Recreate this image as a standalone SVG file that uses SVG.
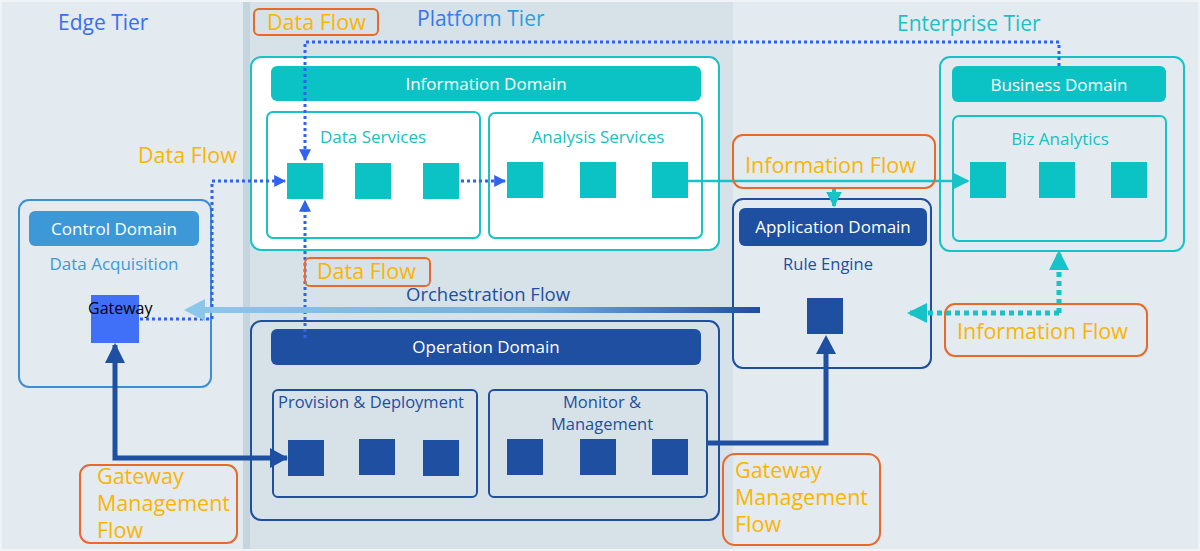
<svg xmlns="http://www.w3.org/2000/svg" width="1200" height="551" viewBox="0 0 1200 551">
<style>
text{font-family:"Open Sans","Noto Sans",sans-serif}
.tier{font-size:21px}
.lbl{font-size:21.5px;fill:#fbb400}
.lblbox{fill:none;stroke:#e8692a;stroke-width:2}
.teal{fill:none;stroke:#17c3c6;stroke-width:2}
.tealw{fill:#fff;stroke:#17c3c6;stroke-width:2}
.tealhead{fill:#0bc3c4}
.tsq{fill:#0bc3c4}
.dsq{fill:#1e4fa0}
.dbox{fill:none;stroke:#1e4fa0;stroke-width:2}
.dhead{fill:#1e4fa0}
.hw{fill:#fff;font-size:17px;text-anchor:middle}
.tt{fill:#17bfc2;font-size:17px;text-anchor:middle}
.dt{fill:#1e4fa0;font-size:16.5px}
.dotb{fill:none;stroke:#2f63ef;stroke-width:3;stroke-dasharray:3 3}
</style>
<defs>
<marker id="ab" viewBox="0 0 10 10" refX="9" refY="5" markerWidth="4" markerHeight="4" orient="auto"><path d="M0,0L10,5L0,10z" fill="#2f63ef"/></marker>
<marker id="at" viewBox="0 0 10 10" refX="9" refY="5" markerWidth="7" markerHeight="7" orient="auto"><path d="M0,0L10,5L0,10z" fill="#17c3c6"/></marker>
<marker id="at2" viewBox="0 0 10 10" refX="9" refY="5" markerWidth="4" markerHeight="4" orient="auto"><path d="M0,0L10,5L0,10z" fill="#17c3c6"/></marker>
<linearGradient id="og" x1="0" y1="0" x2="1" y2="0"><stop offset="0" stop-color="#8cc6ea"/><stop offset="0.6" stop-color="#6eb0e2"/><stop offset="1" stop-color="#1e4fa0"/></linearGradient>
<linearGradient id="pg" x1="0" y1="0" x2="1" y2="0"><stop offset="0" stop-color="#3a6ef0"/><stop offset="1" stop-color="#2aa7d8"/></linearGradient>
</defs>

<g id="background">
<rect x="0" y="0" width="1200" height="551" fill="#f0f4f7"/>
<rect x="2" y="2" width="243" height="547" fill="#e3ebf0"/>
<rect x="243" y="2" width="7" height="547" fill="#c5d5dd"/>
<rect x="250" y="2" width="483" height="547" fill="#d6e2e8"/>
<rect x="733" y="2" width="465" height="547" fill="#e3ebf0"/>
</g>

<g id="tiers">
<text class="tier" x="58" y="30" fill="#3a6ef0">Edge Tier</text>
<text class="tier" x="417" y="26" fill="url(#pg)">Platform Tier</text>
<text class="tier" x="897" y="31" fill="#1fbfc4">Enterprise Tier</text>
</g>

<g id="information-domain">
<rect class="tealw" x="251" y="57" width="468" height="193" rx="10"/>
<rect class="tealhead" x="271" y="66" width="430" height="35" rx="6"/>
<text class="hw" x="486" y="90">Information Domain</text>
</g>
<g id="data-services">
<rect class="tealw" x="267" y="112" width="213" height="126" rx="6"/>
<text class="tt" x="373" y="143">Data Services</text>
<rect class="tsq" x="287" y="163" width="36" height="36"/>
<rect class="tsq" x="355" y="163" width="36" height="36"/>
<rect class="tsq" x="423" y="163" width="36" height="36"/>
</g>
<g id="analysis-services">
<rect class="tealw" x="489" y="113" width="213" height="125" rx="6"/>
<text class="tt" x="598" y="143">Analysis Services</text>
<rect class="tsq" x="507" y="162" width="36" height="36"/>
<rect class="tsq" x="580" y="162" width="36" height="36"/>
<rect class="tsq" x="652" y="162" width="36" height="36"/>
</g>

<g id="control-domain">
<rect x="19" y="200" width="192" height="187" rx="10" fill="none" stroke="#3c8fd6" stroke-width="2"/>
<rect x="29" y="211" width="170" height="35" rx="6" fill="#3d98d8"/>
<text class="hw" x="114" y="235">Control Domain</text>
<text x="114" y="270" fill="#3d98d8" font-size="17" text-anchor="middle">Data Acquisition</text>
<rect x="91" y="295" width="48" height="48" fill="#4070f8"/>
<text x="88" y="314" fill="#000" font-size="16">Gateway</text>
</g>

<g id="operation-domain">
<rect class="dbox" x="251" y="321" width="468" height="199" rx="10"/>
<rect class="dhead" x="271" y="329" width="430" height="36" rx="6"/>
<text class="hw" x="486" y="353">Operation Domain</text>
</g>
<g id="provision-deployment">
<rect class="dbox" x="273" y="390" width="204" height="107" rx="5"/>
<text class="dt" x="278" y="408">Provision &amp; Deployment</text>
<rect class="dsq" x="288" y="440" width="36" height="36"/>
<rect class="dsq" x="359" y="439" width="36" height="36"/>
<rect class="dsq" x="423" y="440" width="36" height="36"/>
</g>
<g id="monitor-management">
<rect class="dbox" x="489" y="390" width="218" height="107" rx="5"/>
<text class="dt" x="602" y="408" text-anchor="middle">Monitor &amp;</text>
<text class="dt" x="602" y="430" text-anchor="middle">Management</text>
<rect class="dsq" x="507" y="439" width="36" height="36"/>
<rect class="dsq" x="580" y="439" width="36" height="36"/>
<rect class="dsq" x="652" y="439" width="36" height="36"/>
</g>

<g id="application-domain">
<rect class="dbox" x="733" y="199" width="198" height="169" rx="10"/>
<rect class="dhead" x="739" y="208" width="188" height="38" rx="6"/>
<text class="hw" x="833" y="233">Application Domain</text>
<text class="dt" x="828" y="270" text-anchor="middle" font-size="17">Rule Engine</text>
<rect class="dsq" x="807" y="298" width="36" height="36"/>
</g>

<g id="business-domain">
<rect class="teal" x="940" y="57" width="244" height="194" rx="10"/>
<rect class="tealhead" x="952" y="66" width="214" height="36" rx="6"/>
<text class="hw" x="1059" y="91">Business Domain</text>
</g>
<g id="biz-analytics">
<rect class="teal" x="953" y="116" width="213" height="125" rx="6"/>
<text class="tt" x="1060" y="145">Biz Analytics</text>
<rect class="tsq" x="970" y="162" width="36" height="36"/>
<rect class="tsq" x="1039" y="162" width="36" height="36"/>
<rect class="tsq" x="1111" y="162" width="36" height="36"/>
</g>

<g id="connectors">
<path class="dotb" d="M1059,66 V42 H305 V160" marker-end="url(#ab)"/>
<path class="dotb" d="M140,319 H212 V181 H285" marker-end="url(#ab)"/>
<path class="dotb" d="M305,338 V201" marker-end="url(#ab)"/>
<path class="dotb" d="M461,181 H505" marker-end="url(#ab)"/>
<path d="M688,181 H968" fill="none" stroke="#17c3c6" stroke-width="2.5" marker-end="url(#at)"/>
<path d="M834,188 V206" fill="none" stroke="#17c3c6" stroke-width="4" marker-end="url(#at2)"/>
<path d="M1059,313 H909" fill="none" stroke="#17c3c6" stroke-width="5" stroke-dasharray="5 4" marker-end="url(#at2)"/>
<path d="M1059,313 V252" fill="none" stroke="#17c3c6" stroke-width="5" stroke-dasharray="5 4" marker-end="url(#at2)"/>
<rect x="200" y="307" width="560" height="6" fill="url(#og)"/>
<path d="M184,310 L205,299 L205,321 Z" fill="#8cc6ea"/>
<path d="M287,458 H115 V345" fill="none" stroke="#1e4fa0" stroke-width="5"/>
<path d="M115,343 L105,363 L125,363 Z" fill="#1e4fa0"/>
<path d="M288,458 L270,448 L270,468 Z" fill="#1e4fa0"/>
<path d="M707,443 H826 V350" fill="none" stroke="#1e4fa0" stroke-width="5"/>
<path d="M826,335 L816,354 L836,354 Z" fill="#1e4fa0"/>
</g>

<g id="labels">
<text x="406" y="301" fill="#1e4fa0" font-size="18.5">Orchestration Flow</text>
<rect class="lblbox" x="254" y="9" width="124" height="26" rx="5"/>
<text class="lbl" x="267" y="30">Data Flow</text>
<text class="lbl" x="138" y="163">Data Flow</text>
<rect class="lblbox" x="305" y="258" width="125" height="28" rx="5"/>
<text class="lbl" x="317" y="279">Data Flow</text>
<rect class="lblbox" x="733" y="135" width="202" height="53" rx="10"/>
<text class="lbl" x="745" y="173">Information Flow</text>
<rect class="lblbox" x="945" y="304" width="202" height="52" rx="10"/>
<text class="lbl" x="957" y="339">Information Flow</text>
<rect class="lblbox" x="80" y="465" width="157" height="78" rx="10"/>
<text class="lbl" x="97" y="484">Gateway</text>
<text class="lbl" x="97" y="511">Management</text>
<text class="lbl" x="97" y="538">Flow</text>
<rect class="lblbox" x="723" y="454" width="157" height="91" rx="12"/>
<text class="lbl" x="735" y="478">Gateway</text>
<text class="lbl" x="735" y="505">Management</text>
<text class="lbl" x="735" y="532">Flow</text>
</g>
</svg>
